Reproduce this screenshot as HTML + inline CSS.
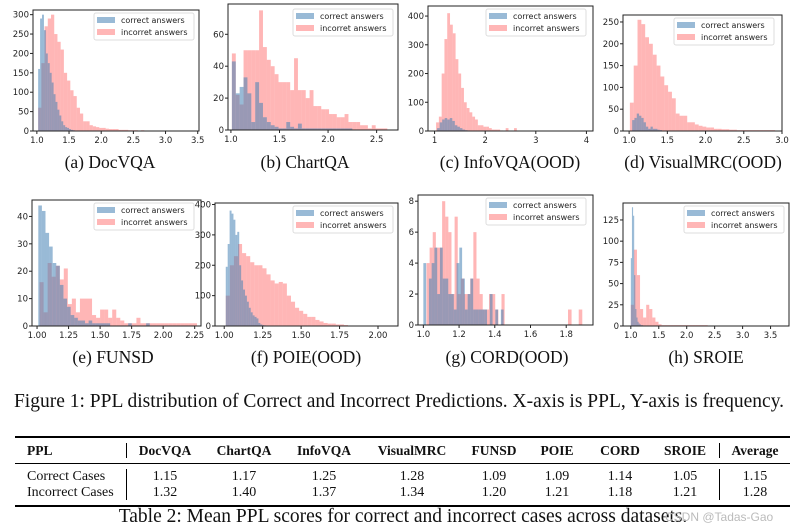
<!DOCTYPE html>
<html><head><meta charset="utf-8">
<style>
body{margin:0;background:#fff;width:804px;height:532px;overflow:hidden;position:relative;font-family:"Liberation Serif",serif}
svg{position:absolute;left:0;top:0}
.cap{position:absolute;font-size:17.5px;line-height:20px;color:#111;white-space:nowrap;transform:translateX(-50%)}
.t{position:absolute;font-size:14px;line-height:16px;color:#111;white-space:nowrap;transform:translateX(-50%)}
.h{font-weight:bold;font-size:13.5px}
.l{transform:none}
.rule{position:absolute;left:15px;width:775px;background:#000}
.vb{position:absolute;width:1px;background:#000}
</style></head><body>
<svg id="fig" width="804" height="532"></svg>
<div class="cap" style="left:110px;top:152px">(a) DocVQA</div>
<div class="cap" style="left:305px;top:152px">(b) ChartQA</div>
<div class="cap" style="left:510px;top:152px">(c) InfoVQA(OOD)</div>
<div class="cap" style="left:703px;top:152px">(d) VisualMRC(OOD)</div>
<div class="cap" style="left:113px;top:347px">(e) FUNSD</div>
<div class="cap" style="left:306px;top:347px">(f) POIE(OOD)</div>
<div class="cap" style="left:507px;top:347px">(g) CORD(OOD)</div>
<div class="cap" style="left:706px;top:347px">(h) SROIE</div>
<div class="cap" style="left:399px;top:391px;font-size:19.5px;line-height:22px">Figure 1: PPL distribution of Correct and Incorrect Predictions. X-axis is PPL, Y-axis is frequency.</div>

<div>
<div class="rule" style="top:436px;height:2px"></div>
<div class="rule" style="top:463px;height:1px"></div>
<div class="rule" style="top:505px;height:2px"></div>
<div class="vb" style="left:126px;top:443px;height:15px"></div>
<div class="vb" style="left:126px;top:469px;height:31px"></div>
<div class="vb" style="left:719px;top:443px;height:15px"></div>
<div class="vb" style="left:719px;top:469px;height:31px"></div>
<div class="t h l" style="left:27px;top:443px">PPL</div>
<div class="t h" style="left:165px;top:443px">DocVQA</div>
<div class="t h" style="left:244px;top:443px">ChartQA</div>
<div class="t h" style="left:324px;top:443px">InfoVQA</div>
<div class="t h" style="left:412px;top:443px">VisualMRC</div>
<div class="t h" style="left:494px;top:443px">FUNSD</div>
<div class="t h" style="left:557px;top:443px">POIE</div>
<div class="t h" style="left:620px;top:443px">CORD</div>
<div class="t h" style="left:685px;top:443px">SROIE</div>
<div class="t h" style="left:755px;top:443px">Average</div>
<div class="t l" style="left:27px;top:469px">Correct Cases</div>
<div class="t" style="left:165px;top:469px">1.15</div><div class="t" style="left:244px;top:469px">1.17</div><div class="t" style="left:324px;top:469px">1.25</div><div class="t" style="left:412px;top:469px">1.28</div><div class="t" style="left:494px;top:469px">1.09</div><div class="t" style="left:557px;top:469px">1.09</div><div class="t" style="left:620px;top:469px">1.14</div><div class="t" style="left:685px;top:469px">1.05</div><div class="t" style="left:755px;top:469px">1.15</div>
<div class="t l" style="left:27px;top:485px">Incorrect Cases</div>
<div class="t" style="left:165px;top:485px">1.32</div><div class="t" style="left:244px;top:485px">1.40</div><div class="t" style="left:324px;top:485px">1.37</div><div class="t" style="left:412px;top:485px">1.34</div><div class="t" style="left:494px;top:485px">1.20</div><div class="t" style="left:557px;top:485px">1.21</div><div class="t" style="left:620px;top:485px">1.18</div><div class="t" style="left:685px;top:485px">1.21</div><div class="t" style="left:755px;top:485px">1.28</div>
</div>
<div class="cap" style="left:403px;top:506px;font-size:19.5px;line-height:22px">Table 2: Mean PPL scores for correct and incorrect cases across datasets.</div>
<div style="position:absolute;left:665px;top:510px;font:12px 'Liberation Sans',sans-serif;color:#bbb">CSDN @Tadas-Gao</div>
<script>
// ---- data ----
const docCorrect=[160,290,300,260,200,175,150,125,95,75,55,40,25,15,10,8,5,3,2,1];
const docIncorrect=[60,175,270,290,300,250,230,210,150,130,105,90,60,45,25,25,15,12,10,8,8,6,5,5,5,3,3,3,2,2,2,1,2,1,1,1,1,1,1,1,1,1,1,1,1,1,1,1,1,1];
const chartCorrect=[43,23,27,33,23,5,30,17,8,5,3,2,1,1,5,2,1,4,1,1,1,1,1,1,1,1,1,1,1,1,1];
const chartIncorrect=[48,22,16,50,50,50,50,75,52,44,40,35,30,30,30,25,45,25,25,20,25,15,15,13,13,10,10,8,8,10,5,5,5,3,3,1,3,1,1,1];
const infoCorrect=[10,30,40,45,40,45,35,20,15,10,5,3,2,1,1];
const infoIncorrect=[30,50,200,320,410,370,340,250,200,150,100,80,65,50,40,20,20,15,15,10,5,5,5,2,1,10,1,1,10,1];
const vmCorrect=[25,30,40,35,30,20,10,5,10,5,5,3,2,1];
const vmIncorrect=[65,150,255,245,215,200,175,150,125,105,90,75,40,35,35,20,20,15,12,10,8,8,5,5,4,4,3,3,2,2,2,2,2,2,2,2,2,2,1,1];
const funsdCorrect=[44,42,34,29,23,22,15,10,7,4,3,2,2,1,2,1,1,1,1,1,0,0,0,0,0,1,0,0,0,0,1];
const funsdIncorrect=[16,5,23,18,22,17,21,8,10,5,10,10,10,4,3,6,6,3,6,3,2,1,1,1,3,1,1,1,1,1,1,1,1,1,1,1,1,1,1];
const poieCorrect=[195,270,380,370,350,300,310,200,150,120,100,80,60,45,35,30,25,10,5,3,2,1];
const poieIncorrect=[100,200,230,270,240,230,210,200,200,190,170,150,140,145,140,100,80,60,50,40,30,30,20,15,10,8,8,5,5,3];
const cordCorrect=[4,0,3,4,5,2,5,3,3,2,2,1,4,5,3,1,2,3,1,1,1,1,1,0,2,0,1,0,1];
const cordIncorrect=[0,4,5,6,5,5,8,7,6,2,7,2,3,2,2,3,6,3,2,1,1,2,2,1,0,2];
const sroieCorrect=[80,140,130,60,20,10,5,3,2,1,1];
const sroieIncorrect=[25,90,60,20,10,25,20,10,5,2,1,1,1,1,1,1,1,1,1,1,1,1,1,1,1];
const cordTail=[1,1]; // incorrect bins at 1.82, 1.88
const xTicksA=[1.0,1.5,2.0,2.5,3.0,3.5],yTicksA=[0,50,100,150,200,250,300];
const xTicksB=[1.0,1.5,2.0,2.5],yTicksB=[0,20,40,60];
const xTicksC=[1,2,3,4],yTicksC=[0,100,200,300,400];
const xTicksD=[1.0,1.5,2.0,2.5,3.0],yTicksD=[0,50,100,150,200,250];
const xTicksE=[1.00,1.25,1.50,1.75,2.00,2.25],yTicksE=[0,10,20,30,40];
const xTicksF=[1.00,1.25,1.50,1.75,2.00],yTicksF=[0,100,200,300,400];
const xTicksG=[1.0,1.2,1.4,1.6,1.8],yTicksG=[0,2,4,6,8];
const xTicksH=[1.0,1.5,2.0,2.5,3.0,3.5],yTicksH=[0,25,50,75,100,125];

const NS="http://www.w3.org/2000/svg",svg=document.getElementById('fig');
function el(t,a,p){const e=document.createElementNS(NS,t);for(const k in a)e.setAttribute(k,a[k]);(p||svg).appendChild(e);return e;}
function panel(o){
  const g=el('g',{});
  
  
  const sx=v=>o.L+(v-o.x0)/(o.x1-o.x0)*(o.R-o.L);
  const sy=v=>o.B-(v-o.y0)/(o.y1-o.y0)*(o.B-o.T);
  const drawSeries=(arr,start,w,col,name)=>{arr.forEach((c,i)=>{if(!c)return;const x=sx(start+i*w),y=sy(c);
    const r=el('rect',{x:x,y:y,width:Math.max(sx(start+(i+1)*w)-x,0.5),height:o.B-y,fill:col},g);
    
    });};
  drawSeries(o.inc,o.s2,o.w2,'rgba(255,110,110,0.5)','incorrect');
  if(o.extra)o.extra(sx,sy,g);
  drawSeries(o.cor,o.s1,o.w1,'rgba(70,130,180,0.55)','correct');
  el('rect',{x:o.L,y:o.T,width:o.R-o.L,height:o.B-o.T,fill:'none',stroke:'#222','stroke-width':1},g);
  o.xt.forEach(v=>{const x=sx(v);el('line',{x1:x,x2:x,y1:o.B,y2:o.B+3,stroke:'#222'},g);
    const t=el('text',{x:x,y:o.B+12,'text-anchor':'middle','font-size':8.5,'font-family':'DejaVu Sans,sans-serif',fill:'#222'},g);t.textContent=o.fmt(v);});
  o.yt.forEach(v=>{const y=sy(v);el('line',{x1:o.L-3,x2:o.L,y1:y,y2:y,stroke:'#222'},g);
    const t=el('text',{x:o.L-4,y:y+3,'text-anchor':'end','font-size':8.5,'font-family':'DejaVu Sans,sans-serif',fill:'#222'},g);t.textContent=v;});
  const lx=o.R-103+(o.lx||0),ly=o.T+3+(o.ly||0);
  const lg=el('g',{},g);
  
  
  el('rect',{x:lx,y:ly,width:100,height:27,fill:'#fff',stroke:'#ddd',rx:2},lg);
  el('rect',{x:lx+3,y:ly+4,width:18,height:6,fill:'rgba(70,130,180,0.55)'},lg);
  el('rect',{x:lx+3,y:ly+16,width:18,height:6,fill:'rgba(255,110,110,0.5)'},lg);
  let t=el('text',{x:lx+27,y:ly+10,'font-size':8,'font-family':'DejaVu Sans,sans-serif',fill:'#222'},lg);t.textContent='correct answers';
  t=el('text',{x:lx+27,y:ly+22,'font-size':8,'font-family':'DejaVu Sans,sans-serif',fill:'#222'},lg);t.textContent='incorret answers';
}
const f1=v=>v.toFixed(1),f0=v=>v.toFixed(0),f2=v=>v.toFixed(2);
panel({id:'docvqa',L:33,R:199,T:10,B:131,x0:0.94,x1:3.52,y0:0,y1:312,xt:xTicksA,yt:yTicksA,fmt:f1,cor:docCorrect,s1:1.02,w1:0.03,inc:docIncorrect,s2:1.02,w2:0.05,lx:-2});
panel({id:'chartqa',L:228,R:398,T:4,B:130,x0:0.97,x1:2.72,y0:0,y1:79,xt:xTicksB,yt:yTicksB,fmt:f1,cor:chartCorrect,s1:1.01,w1:0.04,inc:chartIncorrect,s2:1.01,w2:0.04,lx:-2,ly:2});
panel({id:'infovqa',L:428,R:593,T:6,B:131,x0:0.87,x1:4.13,y0:0,y1:435,xt:xTicksC,yt:yTicksC,fmt:f0,cor:infoCorrect,s1:1.05,w1:0.05,inc:infoIncorrect,s2:1.03,w2:0.055,lx:-4});
panel({id:'visualmrc',L:623,R:782,T:15,B:131,x0:0.92,x1:3.0,y0:0,y1:266,xt:xTicksD,yt:yTicksD,fmt:f1,cor:vmCorrect,s1:1.04,w1:0.03,inc:vmIncorrect,s2:1.01,w2:0.05,lx:-5});
panel({id:'funsd',L:32,R:201,T:200,B:326,x0:0.96,x1:2.3,y0:0,y1:46,xt:xTicksE,yt:yTicksE,fmt:f2,cor:funsdCorrect,s1:1.01,w1:0.0285,inc:funsdIncorrect,s2:1.02,w2:0.032,lx:-4});
panel({id:'poie',L:215,R:398,T:203,B:326,x0:0.94,x1:2.13,y0:0,y1:405,xt:xTicksF,yt:yTicksF,fmt:f2,cor:poieCorrect,s1:1.01,w1:0.0125,inc:poieIncorrect,s2:1.01,w2:0.0265,lx:-2});
panel({id:'cord',L:418,R:593,T:195,B:325,x0:0.97,x1:1.95,y0:0,y1:8.4,xt:xTicksG,yt:yTicksG,fmt:f1,cor:cordCorrect,s1:1.0,w1:0.0155,inc:cordIncorrect,s2:1.0,w2:0.0175,lx:-4,
 extra:(sx,sy,g)=>{[1.81,1.87].forEach((v,i)=>{const y=sy(cordTail[i]);const r=el('rect',{x:sx(v),y:y,width:sx(v+0.02)-sx(v),height:325-y,fill:'rgba(255,110,110,0.5)'},g);
  
  });}});
panel({id:'sroie',L:623,R:789,T:203,B:326,x0:0.86,x1:3.83,y0:0,y1:145,xt:xTicksH,yt:yTicksH,fmt:f1,cor:sroieCorrect,s1:1.0,w1:0.02,inc:sroieIncorrect,s2:1.0,w2:0.055,lx:-2});
</script>
</body></html>
